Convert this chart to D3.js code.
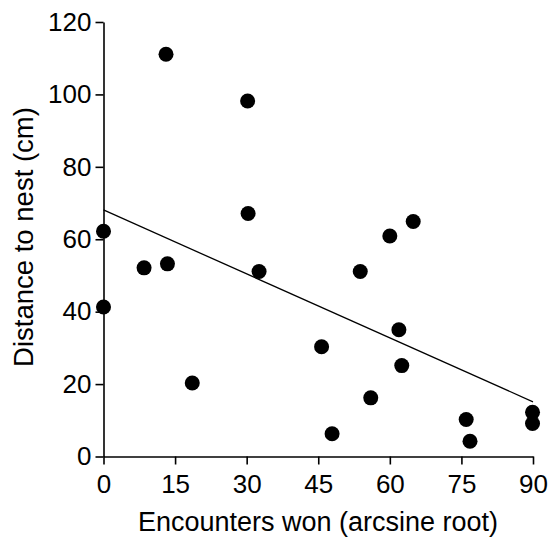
<!DOCTYPE html>
<html>
<head>
<meta charset="utf-8">
<script src="https://cdn.jsdelivr.net/npm/d3@7"></script>
<style>
body { margin: 0; background: #fff; }
text { font-family: "Liberation Sans", Arial, sans-serif; fill: #000; }
</style>
</head>
<body>
<script>
let encounters = [0, 0, 8.5, 13.4, 13.1, 18.6, 30.2, 30.3, 32.6, 45.7, 47.9, 53.8, 56.0, 60.0, 61.9, 62.5, 64.9, 76.0, 76.8, 89.9, 89.9]
let distance = [62.2, 41.3, 52.1, 53.2, 111.1, 20.3, 98.2, 67.1, 51.1, 30.3, 6.3, 51.1, 16.2, 60.9, 35.0, 25.1, 64.9, 10.2, 4.2, 12.2, 9.1]
let fitX = [0, 90]
let fitY = [68.1, 15.1]
let xTicks = [0, 15, 30, 45, 60, 75, 90]
let yTicks = [0, 20, 40, 60, 80, 100, 120]

let w = 549
let h = 540

let svg = d3.select("body").append("svg")
  .attr("width", w)
  .attr("height", h)

let xScale = d3.scaleLinear().domain([0, 90]).range([103.5, 533])
let yScale = d3.scaleLinear().domain([0, 120]).range([456.5, 22])

let xAxis = d3.axisBottom(xScale).tickValues(xTicks).tickSize(8).tickPadding(10).tickSizeOuter(0)
let gx = svg.append("g")
  .attr("transform", "translate(0," + yScale(0) + ")")
  .call(xAxis)
gx.selectAll("text").style("font-size", "26px").attr("fill", "#000")

let yAxis = d3.axisLeft(yScale).tickValues(yTicks).tickSize(8).tickPadding(4).tickSizeOuter(0)
let gy = svg.append("g")
  .attr("transform", "translate(" + xScale(0) + ",0)")
  .call(yAxis)
gy.selectAll("text").style("font-size", "26px").attr("fill", "#000")

svg.selectAll(".domain, .tick line").attr("stroke", "#000").attr("stroke-width", 1.6)

// regression line
let pts = fitX.map((x, i) => [x, fitY[i]])
svg.append("path")
  .attr("d", d3.line().x(d => xScale(d[0])).y(d => yScale(d[1]))(pts))
  .attr("fill", "none")
  .attr("stroke", "#000")
  .attr("stroke-width", 1.3)

svg.selectAll("circle.dot")
  .data(encounters)
  .enter()
  .append("circle")
  .attr("class", "dot")
  .attr("cx", d => xScale(d))
  .attr("cy", (d, i) => yScale(distance[i]))
  .attr("r", 7.5)
  .attr("fill", "#000")

svg.append("text")
  .text("Encounters won (arcsine root)")
  .attr("x", 318)
  .attr("y", 531)
  .attr("text-anchor", "middle")
  .style("font-size", "27px")

svg.append("text")
  .text("Distance to nest (cm)")
  .attr("transform", "translate(33,237) rotate(-90)")
  .attr("text-anchor", "middle")
  .style("font-size", "27.5px")
</script>
</body>
</html>
